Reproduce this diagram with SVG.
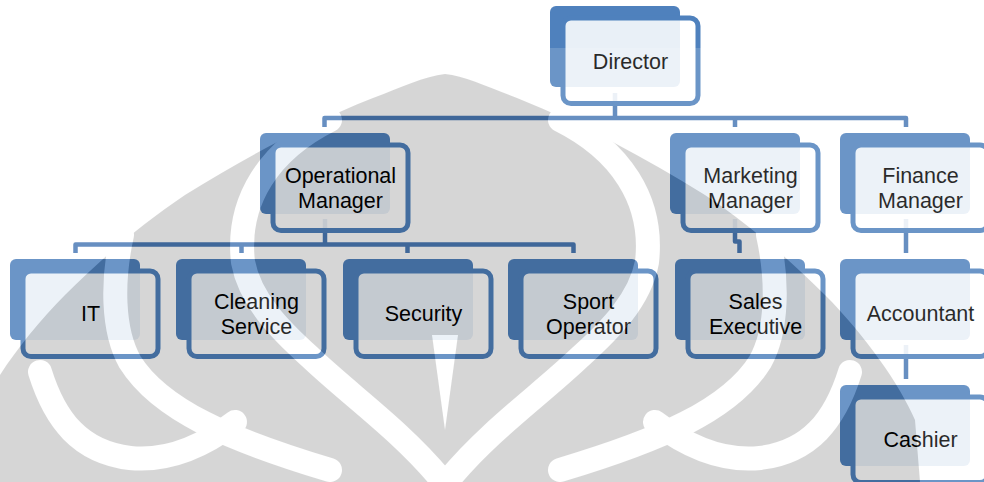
<svg xmlns="http://www.w3.org/2000/svg" width="984" height="482" viewBox="0 0 984 482">
  <defs>
    <style>
      .back { fill: #4f81bd; }
      .front { fill: #ffffff; fill-opacity: 0.88; stroke: #4f81bd; stroke-width: 5; }
      .lbl { font-family: "Liberation Sans", Arial, sans-serif; font-size: 21.5px; fill: #000; text-anchor: middle; }
      .wire { fill: none; stroke: #4a7ab6; stroke-width: 4.5; stroke-linejoin: round; }
      .band { fill: none; stroke: #ffffff; stroke-width: 24; stroke-linecap: round; }
    </style>
    <!-- one org-chart card: filled tab behind, outlined label panel in front -->
    <g id="card">
      <rect class="back" x="0" y="0" width="130" height="81" rx="6"/>
      <rect class="front" x="13" y="12" width="135" height="85.5" rx="8"/>
    </g>
    <!-- left half of the emblem's light strokes; mirrored for the right half -->
    <g id="emblem-half">
      <path class="band" d="M330 120 C270 150 236 200 243 262 C250 300 280 330 310 357 C350 395 400 430 440 478"/>
      <path class="band" d="M122 235 C112 280 112 330 130 362 C160 410 230 440 330 470"/>
      <path class="band" d="M40 372 C55 420 80 452 130 458 C170 462 205 445 235 422"/>
    </g>
  </defs>

  <rect width="984" height="482" fill="#ffffff"/>

  <!-- connectors -->
  <g id="connectors">
    <path class="wire" d="M615 93 V118"/>
    <path class="wire" d="M324.5 127 V118 H906 V127"/>
    <path class="wire" d="M735 118 V127"/>
    <path class="wire" d="M325 219 V244.5"/>
    <path class="wire" d="M75.5 253 V244.5 H573.5 V253"/>
    <path class="wire" d="M241.5 244.5 V253"/>
    <path class="wire" d="M407.5 244.5 V253"/>
    <path class="wire" d="M735 219 V241.5 H739.5 V253"/>
    <path class="wire" d="M906 219 V253"/>
    <path class="wire" d="M906 345 V379"/>
  </g>

  <!-- nodes -->
  <g id="director" transform="translate(550,6)">
    <use href="#card"/>
    <text class="lbl" x="80.5" y="62.5">Director</text>
  </g>
  <g id="operational-manager" transform="translate(260,133)">
    <use href="#card"/>
    <text class="lbl" x="80.5" y="49.5">Operational</text>
    <text class="lbl" x="80.5" y="75.2">Manager</text>
  </g>
  <g id="marketing-manager" transform="translate(670,133)">
    <use href="#card"/>
    <text class="lbl" x="80.5" y="49.5">Marketing</text>
    <text class="lbl" x="80.5" y="75.2">Manager</text>
  </g>
  <g id="finance-manager" transform="translate(840,133)">
    <use href="#card"/>
    <text class="lbl" x="80.5" y="49.5">Finance</text>
    <text class="lbl" x="80.5" y="75.2">Manager</text>
  </g>
  <g id="it" transform="translate(10,259)">
    <use href="#card"/>
    <text class="lbl" x="80.5" y="62.3">IT</text>
  </g>
  <g id="cleaning-service" transform="translate(176,259)">
    <use href="#card"/>
    <text class="lbl" x="80.5" y="49.5">Cleaning</text>
    <text class="lbl" x="80.5" y="75.2">Service</text>
  </g>
  <g id="security" transform="translate(343,259)">
    <use href="#card"/>
    <text class="lbl" x="80.5" y="62.3">Security</text>
  </g>
  <g id="sport-operator" transform="translate(508,259)">
    <use href="#card"/>
    <text class="lbl" x="80.5" y="49.5">Sport</text>
    <text class="lbl" x="80.5" y="75.2">Operator</text>
  </g>
  <g id="sales-executive" transform="translate(675,259)">
    <use href="#card"/>
    <text class="lbl" x="80.5" y="49.5">Sales</text>
    <text class="lbl" x="80.5" y="75.2">Executive</text>
  </g>
  <g id="accountant" transform="translate(840,259)">
    <use href="#card"/>
    <text class="lbl" x="80.5" y="62.3">Accountant</text>
  </g>
  <g id="cashier" transform="translate(840,385)">
    <use href="#card"/>
    <text class="lbl" x="80.5" y="62.3">Cashier</text>
  </g>

  <!-- faint emblem watermark laid over the page -->
  <g id="watermark" opacity="0.16">
    <rect x="0" y="48" width="984" height="434" fill="#ffffff"/>
    <path fill="#0b0b0b" d="M-30 482 L-25 420 C-10 385 25 335 65 295 C100 260 140 225 185 195 C245 158 305 125 373 98 C400 88 425 76 445 74 C465 76 490 88 517 98 C585 125 645 158 705 195 C750 225 790 260 825 295 C865 335 900 385 915 420 L920 482 Z"/>
    <use href="#emblem-half"/>
    <use href="#emblem-half" transform="translate(890,0) scale(-1,1)"/>
    <path fill="#ffffff" d="M432 335 L458 335 L445 430 Z"/>
  </g>
</svg>
